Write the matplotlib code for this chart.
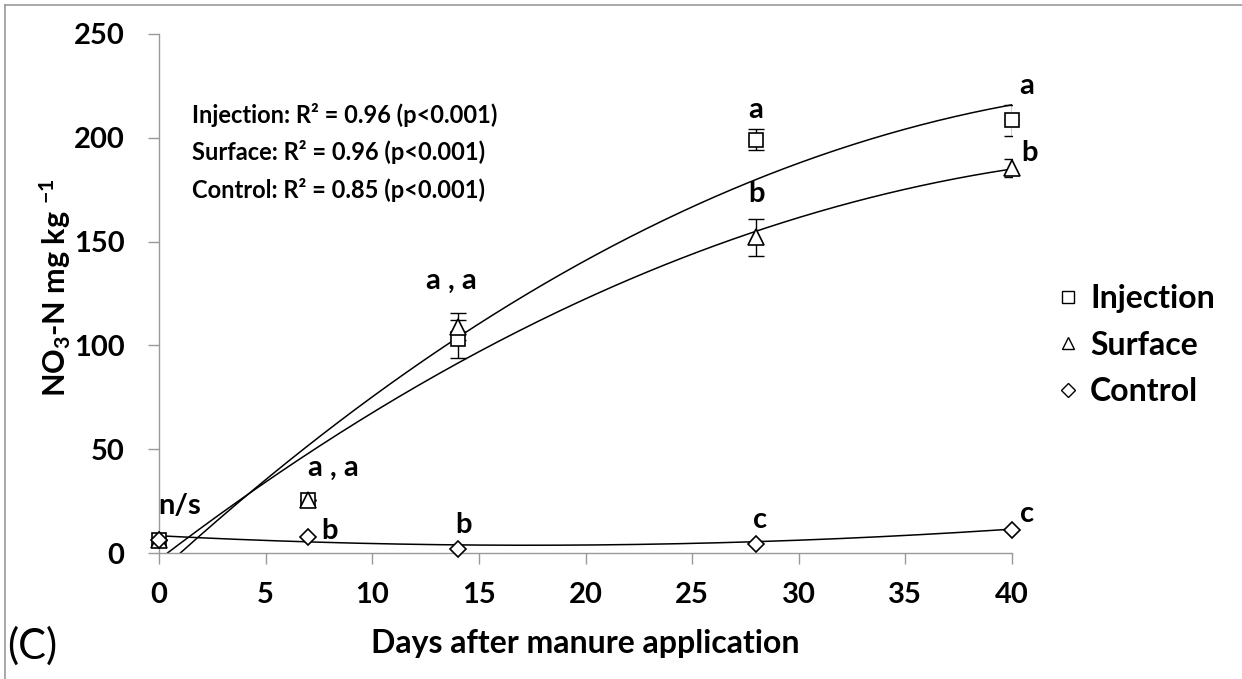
import numpy as np
import matplotlib
matplotlib.use("Agg")
import matplotlib.pyplot as plt
from matplotlib.lines import Line2D

plt.rcParams['font.family'] = ['Lato', 'DejaVu Sans']
plt.rcParams['font.weight'] = 'bold'
plt.rcParams['mathtext.fontset'] = 'custom'
plt.rcParams['mathtext.rm'] = 'Lato:bold'
plt.rcParams['mathtext.it'] = 'Lato:bold'
plt.rcParams['mathtext.bf'] = 'Lato:bold'
plt.rcParams['mathtext.default'] = 'rm'

# data
days = [0, 7, 14, 28, 40]
injection = [6.5, 25.5, 103, 199, 208.5]
injection_err = [0, 0, 9, 5, 7.5]
surface = [6.5, 25.5, 109, 152, 185.5]
surface_err = [0, 0, 6.5, 9, 4.5]
control = [6.5, 7.5, 2, 4.5, 11]

# quadratic trend lines (c0, c1, c2) as drawn in the figure
injection_trend = [-9.3, 9.39, -0.094]
surface_trend = [-3.1, 7.85, -0.0787]
control_trend = [8.3, -0.526, 0.01516]

r2_lines = ["Injection: R\u00b2 = 0.96 (p<0.001)",
            "Surface: R\u00b2 = 0.96 (p<0.001)",
            "Control: R\u00b2 = 0.85 (p<0.001)"]

# significance letters: (day, value, text)
letters = [(0.95, 22.5, "n/s"), (8.2, 41, "a , a"), (8.0, 10.5, "b"),
           (14.3, 13.5, "b"), (28.2, 16, "c"), (40.7, 19, "c"),
           (13.7, 131, "a , a"), (28.0, 213.5, "a"), (28.0, 173, "b"),
           (40.7, 225, "a"), (40.8, 192.5, "b")]

W, H = 1242, 679
fig = plt.figure(figsize=(W / 100, H / 100), dpi=100)
ax = fig.add_axes([159 / W, 1 - 553 / H, 853 / W, 519 / H])

xs = np.linspace(0, 40, 300)
for coef in (injection_trend, surface_trend, control_trend):
    ax.plot(xs, np.polyval(coef[::-1], xs), color='black', lw=1.1, zorder=2)

ax.errorbar(days, injection, yerr=injection_err, fmt='none', ecolor='black',
            elinewidth=1.0, capsize=6, capthick=1.0, zorder=3)
ax.errorbar(days, surface, yerr=surface_err, fmt='none', ecolor='black',
            elinewidth=1.0, capsize=6, capthick=1.0, zorder=3)

mk = dict(ls='none', mfc='white', mec='black', mew=1.2, clip_on=False, zorder=4)
ax.plot(days, injection, marker='s', ms=10, label='Injection', **mk)
ax.plot(days, surface, marker='^', ms=11, label='Surface', **mk)
ax.plot(days, control, marker='D', ms=8, label='Control', **mk)

for x, y, t in letters:
    ax.text(x, y, t, fontsize=21, fontweight='bold', ha='center', va='center')

for i, t in enumerate(r2_lines):
    fig.text(192 / W, 1 - (115 + 37.5 * i) / H, t, fontsize=17,
             fontweight='bold', ha='left', va='center')

ax.set_xlim(0, 40)
ax.set_ylim(0, 250)
ax.set_xticks(range(0, 41, 5))
ax.set_yticks(range(0, 251, 50))
for s in ('top', 'right'):
    ax.spines[s].set_visible(False)
for s in ('left', 'bottom'):
    ax.spines[s].set_color('#999999')
    ax.spines[s].set_linewidth(1.0)
ax.tick_params(axis='both', direction='out', length=8, width=1.0,
               color='#999999', labelsize=21)
ax.tick_params(axis='x', pad=13)
ax.tick_params(axis='y', pad=17)
for lab in ax.get_xticklabels() + ax.get_yticklabels():
    lab.set_fontweight('bold')

handles = [Line2D([], [], ls='none', marker='s', ms=9, mfc='white', mec='black', mew=1.0),
           Line2D([], [], ls='none', marker='^', ms=9, mfc='white', mec='black', mew=1.0),
           Line2D([], [], ls='none', marker='D', ms=7, mfc='white', mec='black', mew=1.0)]
fig.legend(handles, ['Injection', 'Surface', 'Control'], loc='center left',
           bbox_to_anchor=(1042 / W, 1 - 345 / H), frameon=False,
           prop={'size': 23, 'weight': 'bold'}, handlelength=0.6,
           handletextpad=0.4, labelspacing=0.55, borderpad=0)

fig.text(55 / W, 1 - 288 / H, r'NO$_3$-N mg kg $^{-1}$', rotation=90,
         fontsize=22, fontweight='bold', ha='center', va='center')
fig.text(585 / W, 1 - 644 / H, 'Days after manure application',
         fontsize=23, fontweight='bold', ha='center', va='center')
fig.text(32 / W, 1 - 646 / H, '(C)', fontsize=30, fontweight='normal',
         ha='center', va='center')

# partial frame around the picture
fig.add_artist(Line2D([5 / W, 1], [1 - 5 / H, 1 - 5 / H], color='#999999', lw=1.2))
fig.add_artist(Line2D([5 / W, 5 / W], [0, 1 - 5 / H], color='#999999', lw=1.2))

fig.savefig('out.png', dpi=100)
